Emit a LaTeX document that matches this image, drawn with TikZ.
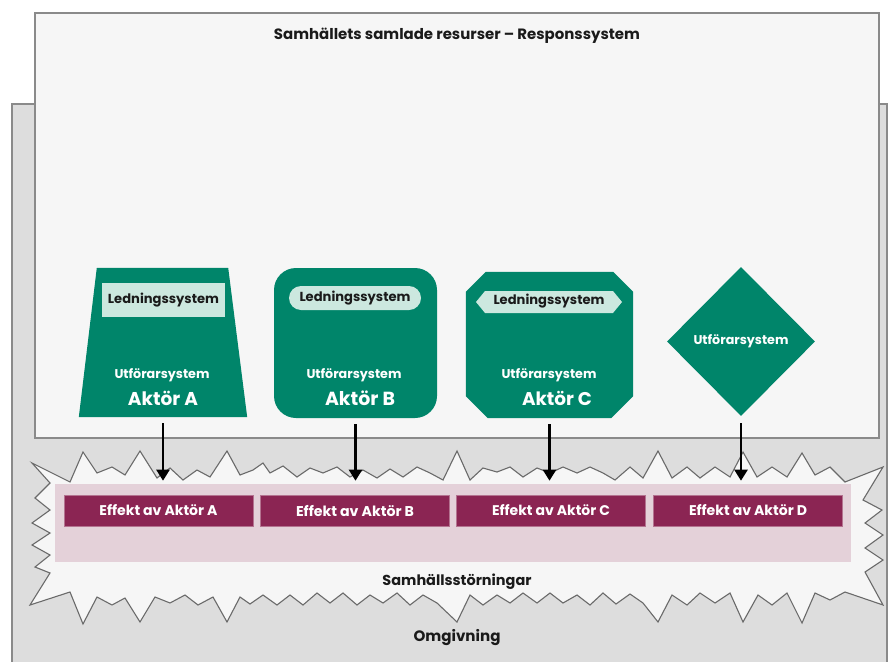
\documentclass[tikz,border=0pt]{standalone}
\usepackage{fontspec}
\setmainfont{Poppins}
\usetikzlibrary{shapes.geometric,arrows.meta,calc}

\definecolor{tealg}{HTML}{00856A}
\definecolor{mint}{HTML}{CCE8DF}
\definecolor{berry}{HTML}{8B2553}
\definecolor{berryedge}{HTML}{B47390}
\definecolor{pinkband}{HTML}{E4D1D9}
\definecolor{envgrey}{HTML}{DDDDDD}
\definecolor{panel}{HTML}{F6F6F6}
\definecolor{edgegrey}{HTML}{8A8A8A}
\definecolor{burstgrey}{HTML}{6A6A6A}
\definecolor{ink}{HTML}{1A1A1A}

% set a label at a given width
\newcommand\fitw[2]{\resizebox{#1pt}{!}{\bfseries #2}}

\tikzset{
  areabox/.style={fill=panel, draw=edgegrey, line width=1.2pt},
  anchorbox/.style={inner sep=0pt, minimum width=#1},
  shapefill/.style={fill=tealg},
  leadlabel/.style={text=ink, inner sep=0pt},
  doerlabel/.style={text=white, inner sep=0pt},
  effectbox/.style={fill=berry, draw=berryedge, line width=0.6pt, minimum width=189pt,
    minimum height=31pt, inner sep=0pt, text=white},
  flow/.style={draw=black, line width=2.4pt, -{Triangle[length=11pt,width=13pt]},
    shorten <=6pt, shorten >=14pt},
  heading/.style={text=ink, inner sep=0pt}
}

\begin{document}
\begin{tikzpicture}[x=1pt,y=-1pt]
\useasboundingbox (0,0) rectangle (888,661);

% surroundings
\draw[fill=envgrey, draw=edgegrey, line width=1.2pt] (12,104) rectangle (887,672);
\node[heading] (omg) at (457,638) {\fitw{87}{Omgivning}};

% society's combined resources
\draw[areabox] (35,13) rectangle (879,438);
\node[heading] (title) at (457,36) {\fitw{366}{Samhällets samlade resurser – Responssystem}};

% societal disturbances: jagged burst
\draw[fill=panel, draw=burstgrey, line width=1.1pt, line join=miter]
  (32,463) -- (70,482) -- (83,452) -- (97,473) -- (112,467) -- (125,475) -- (140,451)
  -- (157,478) -- (170,468) -- (183,480) -- (197,470) -- (210,477) -- (227,451)
  -- (240,475) -- (253,470) -- (263,463) -- (270,473) -- (283,466) -- (297,477)
  -- (310,468) -- (323,473) -- (337,467) -- (350,477) -- (363,470) -- (377,478)
  -- (390,469) -- (403,477) -- (417,467) -- (430,473) -- (443,480) -- (457,451)
  -- (470,480) -- (483,468) -- (497,472) -- (510,467) -- (523,477) -- (537,468)
  -- (550,473) -- (563,467) -- (577,473) -- (590,467) -- (603,473) -- (615,480)
  -- (630,467) -- (643,478) -- (658,451) -- (672,478) -- (687,467) -- (700,478)
  -- (715,467) -- (730,477) -- (743,452) -- (757,477) -- (772,467) -- (787,477)
  -- (802,453) -- (815,475) -- (830,467) -- (845,482) -- (883,467)
  -- (863,500) -- (882,510) -- (865,523) -- (883,535) -- (865,548) -- (883,560)
  -- (865,572) -- (883,605)
  -- (845,592) -- (830,600) -- (815,593) -- (802,623) -- (787,593) -- (772,605)
  -- (758,595) -- (743,622) -- (730,593) -- (715,603) -- (700,593) -- (687,605)
  -- (672,595) -- (658,622) -- (643,603) -- (630,594) -- (616,604) -- (603,593)
  -- (590,605) -- (577,595) -- (563,603) -- (550,593) -- (537,603) -- (523,593)
  -- (510,603) -- (497,595) -- (483,605) -- (470,595) -- (457,622) -- (437,603)
  -- (423,595) -- (410,605) -- (397,593) -- (383,603) -- (370,595) -- (357,605)
  -- (343,593) -- (330,603) -- (317,593) -- (303,605) -- (290,595) -- (277,605)
  -- (263,595) -- (250,604) -- (240,597) -- (227,622) -- (213,597) -- (198,605)
  -- (185,595) -- (170,603) -- (155,597) -- (140,622) -- (125,598) -- (112,605)
  -- (97,597) -- (83,624) -- (70,592) -- (30,605)
  -- (50,573) -- (35,567) -- (50,555) -- (32,545) -- (50,533) -- (32,523)
  -- (50,510) -- (35,498) -- (50,483) -- cycle;

% effects band
\fill[pinkband] (55,484) rectangle (851,562);
\node[effectbox] (effA) at (158.5,510.5) {\fitw{118}{Effekt av Aktör A}};
\node[effectbox] (effB) at (355,510.5) {\fitw{118}{Effekt av Aktör B}};
\node[effectbox] (effC) at (551,510.5) {\fitw{118}{Effekt av Aktör C}};
\node[effectbox] (effD) at (748,510.5) {\fitw{118}{Effekt av Aktör D}};
\node[heading] (dist) at (457,582) {\fitw{149}{Samhällsstörningar}};

% Actor A: trapezium
\node[anchorbox=168pt, minimum height=149pt] (actA) at (163,342.5) {};
\fill[shapefill] (actA.south west) -- ($(actA.north west)+(18,0)$)
  -- ($(actA.north east)+(-19,0)$) -- (actA.south east) -- cycle;
\node[fill=mint, minimum width=123pt, minimum height=34pt, inner sep=0pt, leadlabel]
  (ledA) at (163.5,300) {\fitw{111}{Ledningssystem}};
\node[doerlabel] (utfA) at (162,375) {\fitw{95}{Utförarsystem}};
\node[doerlabel] (nameA) at (163,398) {\fitw{70}{Aktör A}};

% Actor B: rounded box
\node[shapefill, rounded corners=22pt, minimum width=163pt, minimum height=150pt,
  inner sep=0pt] (actB) at (355.5,343) {};
\node[fill=mint, rounded corners=12pt, minimum width=132pt, minimum height=24pt,
  inner sep=0pt, leadlabel] (ledB) at (355,298) {\fitw{111}{Ledningssystem}};
\node[doerlabel] (utfB) at (354,375) {\fitw{95}{Utförarsystem}};
\node[doerlabel] (nameB) at (360,398) {\fitw{70}{Aktör B}};

% Actor C: chamfered box
\node[anchorbox=167pt, minimum height=146pt] (actC) at (549.5,345) {};
\fill[shapefill] ($(actC.north west)+(20,0)$) -- ($(actC.north east)+(-20,0)$)
  -- ($(actC.north east)+(0,20)$) -- ($(actC.south east)+(0,-22)$)
  -- ($(actC.south east)+(-22,0)$) -- ($(actC.south west)+(22,0)$)
  -- ($(actC.south west)+(0,-22)$) -- ($(actC.north west)+(0,20)$) -- cycle;
\coordinate (ledCw) at (476,302);
\coordinate (ledCe) at (622,302);
\fill[mint] (ledCw) -- ($(ledCw)+(9,-11)$) -- ($(ledCe)+(-9,-11)$) -- (ledCe)
  -- ($(ledCe)+(-9,11)$) -- ($(ledCw)+(9,11)$) -- cycle;
\node[leadlabel] (ledC) at (549,301) {\fitw{111}{Ledningssystem}};
\node[doerlabel] (utfC) at (549,375) {\fitw{95}{Utförarsystem}};
\node[doerlabel] (nameC) at (557,398) {\fitw{70}{Aktör C}};

% Actor D: diamond
\node[diamond, shapefill, minimum width=148pt, minimum height=149pt, inner sep=0pt,
  doerlabel] (actD) at (741,341.5) {\fitw{95}{Utförarsystem}};

% actors act on the disturbances
\draw[flow] (actA.south) -- (actA.south |- effA.north);
\draw[flow] (actB.south) -- (actB.south |- effB.north);
\draw[flow] (actC.south) -- (actC.south |- effC.north);
\draw[flow, shorten <=7pt] (actD.south) -- (actD.south |- effD.north);
\end{tikzpicture}
\end{document}
